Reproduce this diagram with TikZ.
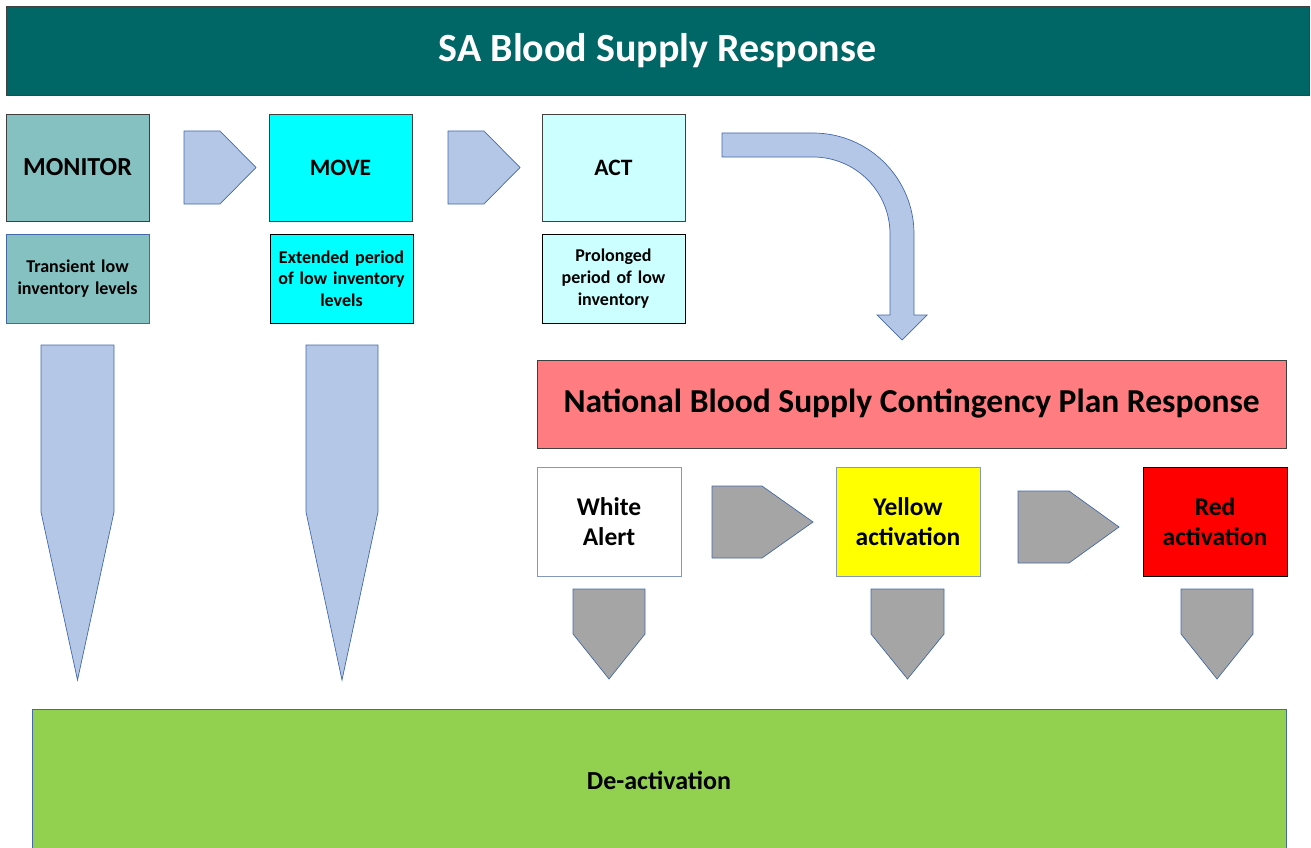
\documentclass[tikz,border=0pt]{standalone}
\usepackage{fontspec}
\setmainfont{Carlito}
\usetikzlibrary{positioning}

\definecolor{titlefill}{RGB}{0,102,102}
\definecolor{monitorfill}{RGB}{132,193,192}
\definecolor{movefill}{RGB}{0,255,255}
\definecolor{actfill}{RGB}{204,255,255}
\definecolor{arrowfill}{RGB}{180,199,231}
\definecolor{arrowline}{RGB}{68,104,168}
\definecolor{plainline}{RGB}{132,151,190}
\definecolor{planfill}{RGB}{255,124,128}
\definecolor{yellowfill}{RGB}{255,255,0}
\definecolor{redfill}{RGB}{255,0,0}
\definecolor{stepgray}{RGB}{165,165,165}
\definecolor{deactfill}{RGB}{146,208,80}
\definecolor{darkline}{RGB}{64,64,64}

\newcommand{\fs}[1]{\fontsize{#1}{1.2\dimexpr#1pt\relax}\selectfont\bfseries}

% block arrow pointing right: x, top, body length, tip length, height
\newcommand{\rightblock}[5]{%
  (#1,#2) -- ++(#3,0) -- ++(#4,#5/2) -- ++(-#4,#5/2) -- ++(-#3,0) -- cycle}
% block arrow pointing down: left, top, width, body length, tip length
\newcommand{\downblock}[5]{%
  (#1,#2) -- ++(#3,0) -- ++(0,#4) -- ++(-#3/2,#5) -- ++(-#3/2,-#5) -- cycle}

\begin{document}
\begin{tikzpicture}[x=1pt, y=-1pt,
  box/.style={draw=darkline, line width=0.8pt, align=center, inner sep=2pt},
  stagebox/.style={box, minimum width=143pt, minimum height=107pt},
  notebox/.style={box, minimum width=143pt, minimum height=89pt,
    font=\fs{18}, text width=138pt},
  alertbox/.style={box, draw=plainline, minimum width=144pt,
    minimum height=109pt, font=\fs{25.5}},
  bluearrow/.style={fill=arrowfill, draw=arrowline, line width=0.7pt},
  grayarrow/.style={fill=stepgray, draw=arrowline, line width=0.7pt}]

  \useasboundingbox (0,0) rectangle (1311,848);

  % SA response: heading, stages and their descriptions

  \node [box, fill=titlefill, minimum width=1303pt, minimum height=89pt,
    text=white, font=\fs{40}] (sa) at (657.5,50.5) {SA Blood Supply Response};

  \node [stagebox, fill=monitorfill, font=\fs{26}] (monitor) at (77.5,167.5)
    {MONITOR};
  \node [stagebox, fill=movefill, font=\fs{23.5}] (move) at (340.5,167.5)
    {MOVE};
  \node [stagebox, fill=actfill, font=\fs{23.5}] (act) at (613.5,167.5) {ACT};

  \node [notebox, draw=arrowline, fill=monitorfill] (transient)
    at (77.5,278.5) {Transient low\\inventory levels};
  \node [notebox, draw=black, fill=movefill] (extended) at (341.5,278.5)
    {Extended period\\of low inventory\\levels};
  \node [notebox, draw=black, fill=actfill] (prolonged) at (613.5,278.5)
    {Prolonged\\period of low\\inventory};

  \draw [bluearrow] \rightblock{184}{131}{36}{36}{73};
  \draw [bluearrow] \rightblock{448}{131}{36}{36}{73};

  \draw [bluearrow] (722,133) -- (813,133)
    .. controls (868.8,133) and (914,178.2) .. (914,234) -- (914,315)
    -- (927,315) -- (902,340) -- (877,315) -- (890,315) -- (890,234)
    .. controls (890,191.5) and (855.5,157) .. (813,157) -- (722,157) -- cycle;

  \draw [bluearrow] \downblock{41}{345}{73}{167}{168};
  \draw [bluearrow] \downblock{306}{345}{72}{167}{168};

  % National contingency plan: heading and alert levels

  \node [box, fill=planfill, minimum width=749pt, minimum height=88pt,
    font=\fs{33.5}] (plan) at (911.5,404)
    {National Blood Supply Contingency Plan Response};

  \node [alertbox, fill=white] (white) at (609,521.5) {White\\Alert};
  \node [alertbox, fill=yellowfill] (yellow) at (908,521.5)
    {Yellow\\activation};
  \node [alertbox, draw=black, fill=redfill] (red) at (1215,521.5)
    {Red\\activation};

  \draw [grayarrow] \rightblock{712}{486}{50}{51}{72};
  \draw [grayarrow] \rightblock{1018}{491}{51}{50}{72};

  \draw [grayarrow] \downblock{573}{589}{72}{45}{45};
  \draw [grayarrow] \downblock{871}{589}{73}{45}{45};
  \draw [grayarrow] \downblock{1181}{589}{72}{45}{45};

  % De-activation

  \node [box, draw=arrowline, fill=deactfill, minimum width=1254pt,
    minimum height=142pt, font=\fs{26}] (deact) at (659,780) {De-activation};
\end{tikzpicture}
\end{document}
